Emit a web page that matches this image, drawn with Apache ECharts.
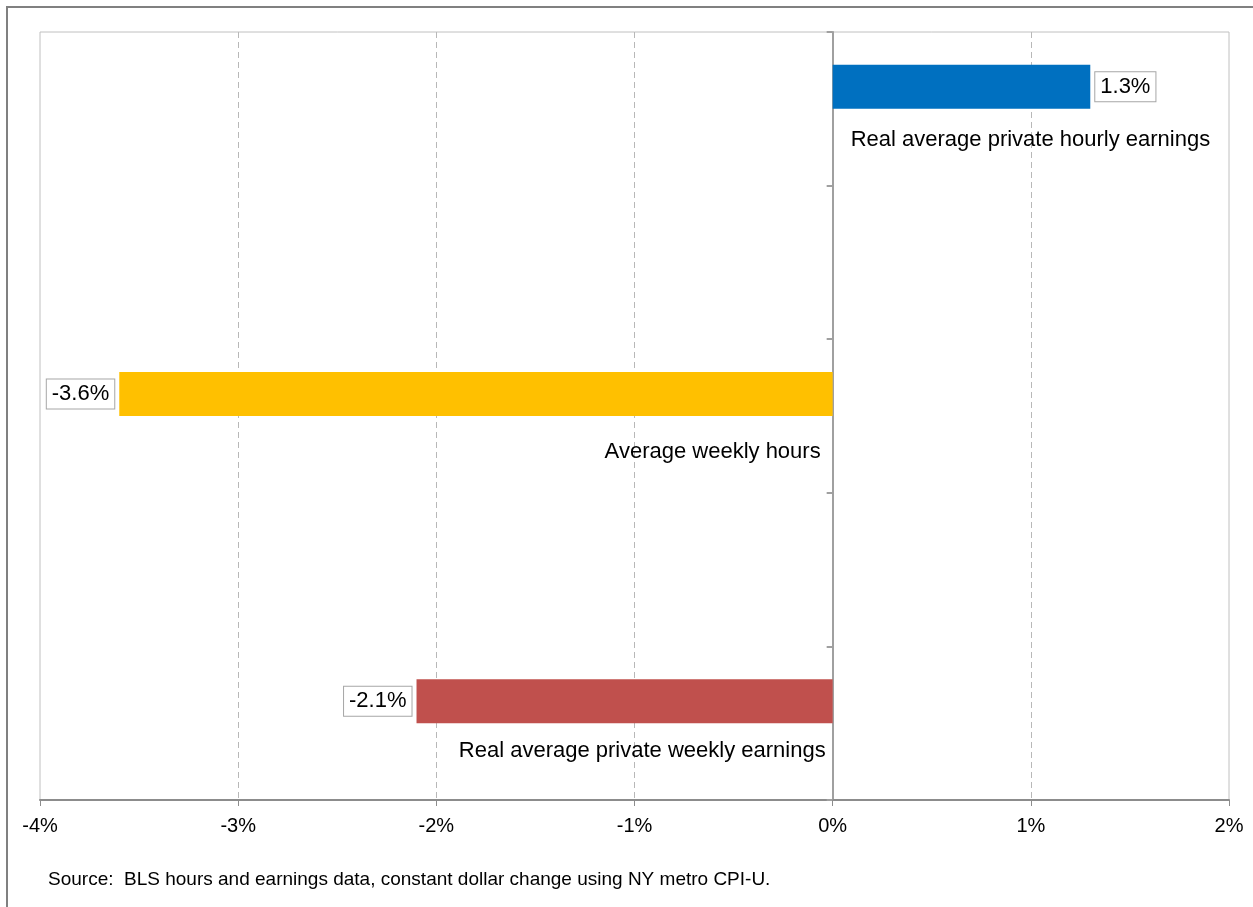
<!DOCTYPE html>
<html>
<head>
<meta charset="utf-8">
<script src="https://cdn.jsdelivr.net/npm/echarts@6/dist/echarts.min.js"></script>
<style>
html,body{margin:0;padding:0;background:#fff;}
#chart{width:1253px;height:907px;}
</style>
</head>
<body>
<div id="chart"></div>
<script>
// ---- data ----
var categories = ['Real average private hourly earnings', 'Average weekly hours', 'Real average private weekly earnings'];
var values = [1.3, -3.6, -2.1];
var barColors = ['#0070C0', '#FFC000', '#C0504D'];
var slotIndex = [0, 2, 4];              // category slots used on the 5-slot axis
var slots = ['s0', 's1', 's2', 's3', 's4'];
var xTicks = [-4, -3, -2, -1, 0, 1, 2];
var sourceText = 'Source:  BLS hours and earnings data, constant dollar change using NY metro CPI-U.';

// label styling (not data)
var nameDistance = [18, 12, 7];
var nameOffsetY = [31, 36, 28];

var FONT = '"Liberation Sans", Arial, sans-serif';

var barData = slots.map(function () { return '-'; });
slotIndex.forEach(function (s, i) {
  barData[s] = {
    value: values[i],
    itemStyle: { color: barColors[i] },
    label: { position: values[i] >= 0 ? 'right' : 'left' }
  };
});

var nameData = slotIndex.map(function (s, i) {
  return {
    value: [0, s],
    label: {
      show: true,
      formatter: categories[i],
      color: '#000',
      opacity: 1,
      fontSize: 22,
      fontFamily: FONT,
      position: values[i] >= 0 ? 'right' : 'left',
      distance: nameDistance[i],
      offset: [0, nameOffsetY[i]]
    }
  };
});

var chart = echarts.init(document.getElementById('chart'), null, { renderer: 'canvas' });
chart.setOption({
  animation: false,
  backgroundColor: '#fff',
  textStyle: { fontFamily: FONT },
  grid: {
    left: 40, right: 24, top: 32, bottom: 107,
    show: true, borderColor: '#c0c0c0', borderWidth: 1, backgroundColor: 'transparent'
  },
  xAxis: {
    type: 'value',
    min: xTicks[0], max: xTicks[xTicks.length - 1], interval: 1,
    axisLine: { show: true, lineStyle: { color: '#8c8c8c', width: 2 } },
    axisTick: { show: true, length: 6, lineStyle: { color: '#8c8c8c', width: 1 } },
    axisLabel: {
      color: '#000', fontSize: 20, margin: 16, fontFamily: FONT,
      formatter: function (v) { return v + '%'; }
    },
    splitLine: { show: true, showMinLine: false, showMaxLine: false, lineStyle: { color: '#b8b8b8', type: [6, 4], width: 1 } }
  },
  yAxis: {
    type: 'category',
    data: slots,
    inverse: true,
    axisLine: { show: true, onZero: true, lineStyle: { color: '#a0a0a0', width: 2 } },
    axisTick: { show: true, length: 6, alignWithLabel: false, lineStyle: { color: '#a0a0a0', width: 2 } },
    axisLabel: { show: false },
    splitLine: { show: false }
  },
  series: [
    {
      type: 'bar',
      data: barData,
      barWidth: 44,
      barGap: '0%',
      z: 3,
      label: {
        show: true,
        distance: 5,
        color: '#000',
        fontSize: 22,
        fontFamily: FONT,
        backgroundColor: '#fff',
        borderColor: '#a6a6a6',
        borderWidth: 1,
        padding: [4, 5, 3, 5],
        formatter: function (p) { return p.value.toFixed(1) + '%'; }
      }
    },
    {
      type: 'bar',
      data: slots.map(function () { return '-'; }),
      barWidth: 44,
      silent: true
    },
    {
      type: 'scatter',
      symbolSize: 0,
      itemStyle: { opacity: 1 },
      data: nameData,
      z: 5,
      label: { color: '#000', opacity: 1, fontSize: 22, fontFamily: FONT }
    }
  ],
  graphic: [
    {
      type: 'rect',
      shape: { x: 7, y: 7, width: 1300, height: 960 },
      style: { fill: 'none', stroke: '#808080', lineWidth: 2 },
      silent: true
    },
    {
      type: 'text',
      left: 48, top: 870,
      style: { text: sourceText, fill: '#000', fontSize: 19, fontFamily: FONT }
    }
  ]
});
</script>
</body>
</html>
